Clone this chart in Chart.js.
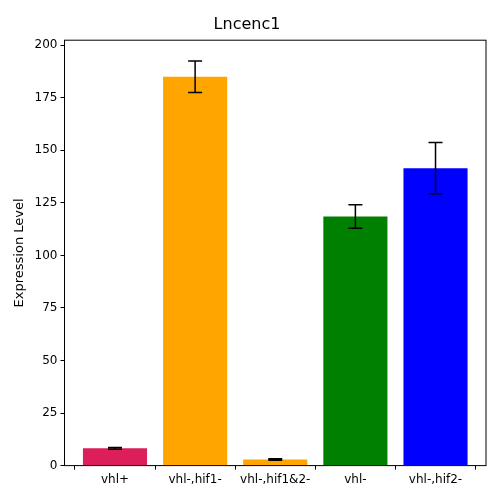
<!DOCTYPE html>
<html>
<head>
<script src="https://cdn.jsdelivr.net/npm/chart.js@4"></script>
<style>body{margin:0;background:#fff}</style>
</head>
<body>
<canvas id="c" width="500" height="500"></canvas>
<script>
const categories = ['vhl+', 'vhl-,hif1-', 'vhl-,hif1&2-', 'vhl-', 'vhl-,hif2-'];
const values = [8.2, 185, 2.9, 118.5, 141.5];
const errors = [0.4, 7.5, 0.3, 5.6, 12.2];
const colors = ['#dc1f5a', '#ffa500', '#ffa500', '#008000', '#0000ff'];
const yTicks = [0, 25, 50, 75, 100, 125, 150, 175, 200];

const errorBars = {
    id: 'errorBars',
    afterDatasetsDraw(chart) {
        const ctx = chart.ctx;
        const meta = chart.getDatasetMeta(0);
        const y = chart.scales.y;
        ctx.save();
        ctx.strokeStyle = '#000';
        ctx.lineWidth = 1.5;
        meta.data.forEach((bar, i) => {
            const top = y.getPixelForValue(values[i] + errors[i]);
            const bot = y.getPixelForValue(values[i] - errors[i]);
            ctx.beginPath();
            ctx.moveTo(bar.x, top); ctx.lineTo(bar.x, bot);
            ctx.moveTo(bar.x - 7, top); ctx.lineTo(bar.x + 7, top);
            ctx.moveTo(bar.x - 7, bot); ctx.lineTo(bar.x + 7, bot);
            ctx.stroke();
        });
        const a = chart.chartArea;
        ctx.lineWidth = 1;
        ctx.strokeRect(a.left, a.top, a.right - a.left, a.bottom - a.top);
        ctx.restore();
    }
};

const tickFont = { family: 'DejaVu Sans', size: 12 };
const tickGrid = { display: true, drawOnChartArea: false, drawTicks: true, tickLength: 4, color: '#000' };

new Chart(document.getElementById('c'), {
    type: 'bar',
    data: {
        datasets: [{
            data: values.map((v, i) => ({ x: i, y: v })),
            backgroundColor: colors, barPercentage: 0.8, categoryPercentage: 1
        }]
    },
    options: {
        responsive: false,
        animation: false,
        layout: { padding: { left: 8, right: 14, top: 4, bottom: 10 } },
        plugins: {
            legend: { display: false },
            tooltip: { enabled: false },
            title: { display: true, text: 'Lncenc1', color: '#000', font: { family: 'DejaVu Sans', size: 16, weight: 'normal' }, padding: { top: 11, bottom: 6 } }
        },
        scales: {
            x: {
                type: 'linear', min: -0.63, max: 4.63, offset: false,
                afterBuildTicks: s => { s.ticks = categories.map((c, i) => ({ value: i })); },
                grid: tickGrid,
                border: { display: false },
                ticks: { color: '#000', font: tickFont, callback: v => categories[v] }
            },
            y: {
                min: 0, max: 202.4,
                afterBuildTicks: s => { s.ticks = yTicks.map(v => ({ value: v })); },
                grid: tickGrid,
                border: { display: false },
                ticks: { color: '#000', font: tickFont },
                title: { display: true, text: 'Expression Level', color: '#000', font: { family: 'DejaVu Sans', size: 13 } }
            }
        }
    },
    plugins: [errorBars]
});
</script>
</body>
</html>
